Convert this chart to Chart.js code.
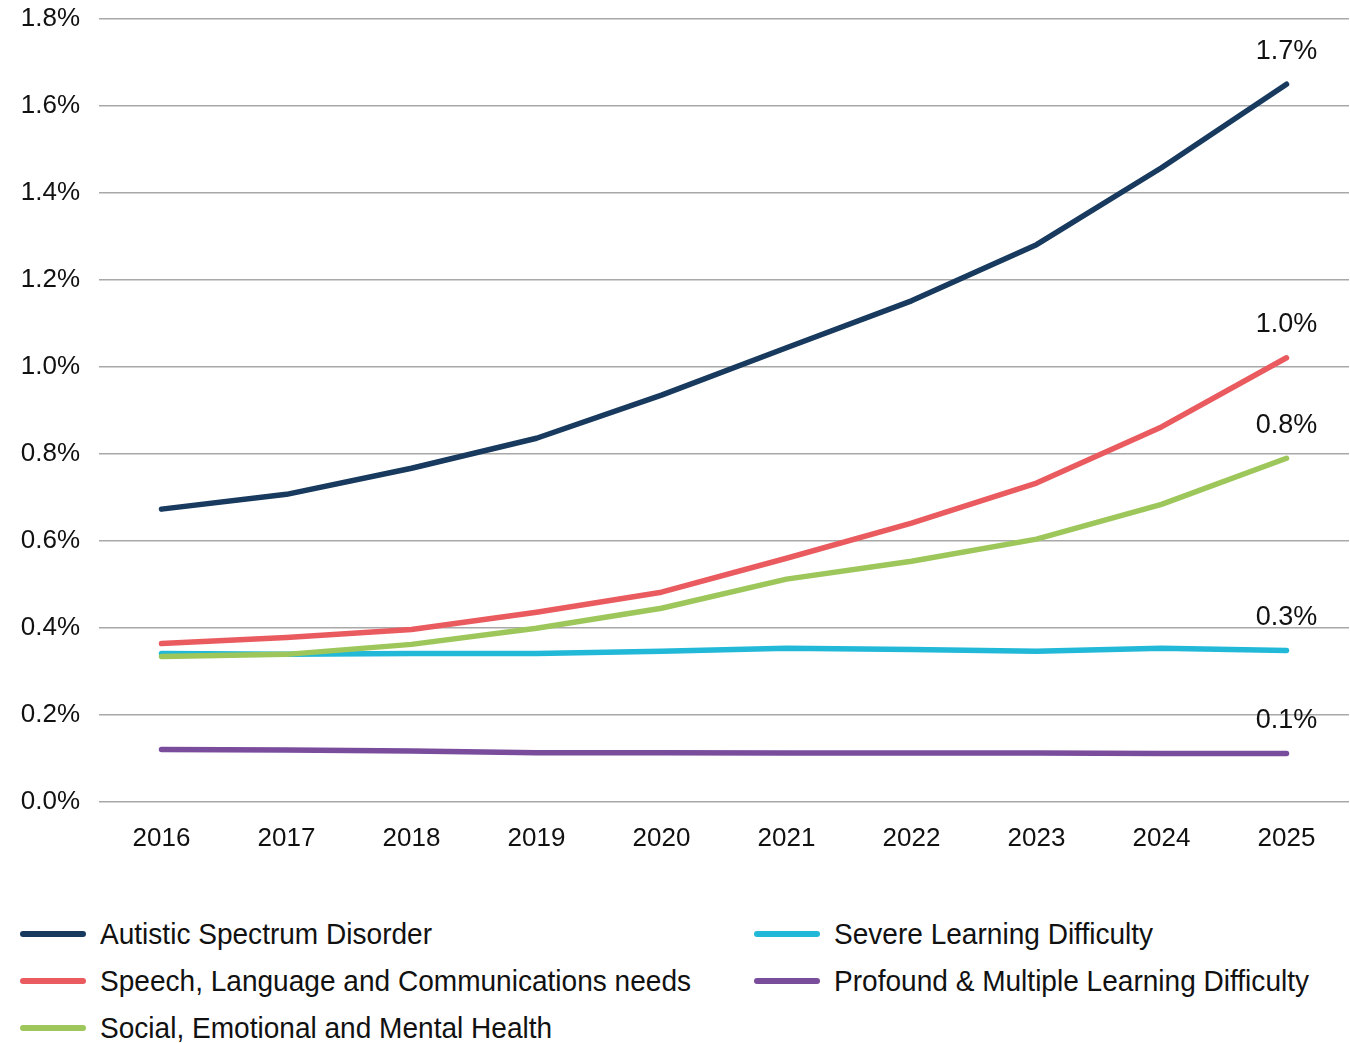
<!DOCTYPE html>
<html>
<head>
<meta charset="utf-8">
<script src="https://cdn.jsdelivr.net/npm/chart.js@4.4.1/dist/chart.umd.min.js"></script>
<style>
  body { margin: 0; background: #fff; }
  #wrap { position: relative; width: 1350px; height: 1043px; overflow: hidden; }
  #chartBox { position: absolute; left: 0; top: 0; width: 1350px; height: 883px; }
  #legend {
    position: absolute; left: 20px; top: 910px;
    display: grid; grid-template-columns: 734px 600px;
    grid-auto-flow: column; grid-template-rows: 47px 47px 47px;
    font-family: "Liberation Sans", Arial, sans-serif;
    font-size: 30px; color: #111;
  }
  .item { display: flex; align-items: center; white-space: nowrap; }
  .swatch { flex: none; width: 66px; height: 6px; border-radius: 3px; margin-right: 14px; }
  .txt { display: inline-block; transform: scaleX(0.935); transform-origin: left center; }
</style>
</head>
<body>
<div id="wrap">
  <div id="chartBox"><canvas id="chart"></canvas></div>
  <div id="legend"></div>
</div>
<script>
const years = ["2016", "2017", "2018", "2019", "2020", "2021", "2022", "2023", "2024", "2025"];

// share of pupils, in %
const asd = [0.673, 0.707, 0.767, 0.836, 0.935, 1.044, 1.152, 1.281, 1.458, 1.65];
const slcn = [0.364, 0.378, 0.396, 0.436, 0.482, 0.56, 0.641, 0.733, 0.862, 1.021];
const semh = [0.334, 0.339, 0.362, 0.399, 0.445, 0.512, 0.553, 0.604, 0.684, 0.79];
const sld = [0.341, 0.339, 0.341, 0.341, 0.346, 0.353, 0.35, 0.346, 0.353, 0.348];
const pmld = [0.12, 0.119, 0.117, 0.113, 0.113, 0.112, 0.112, 0.112, 0.111, 0.111];

const yTicks = [0, 0.2, 0.4, 0.6, 0.8, 1.0, 1.2, 1.4, 1.6, 1.8];

const fontFamily = '"Liberation Sans", Arial, sans-serif';

function line(label, data, color) {
  return {
    label: label,
    data: data,
    borderColor: color,
    backgroundColor: color,
    borderWidth: 5.5,
    borderCapStyle: "round",
    borderJoinStyle: "round",
    pointRadius: 0,
    tension: 0,
    fill: false,
  };
}

// value label above the last point of each line
const endLabels = {
  id: "endLabels",
  afterDatasetsDraw(chart) {
    const ctx = chart.ctx;
    ctx.save();
    ctx.font = "27px " + fontFamily;
    ctx.fillStyle = "#111";
    ctx.textAlign = "center";
    ctx.textBaseline = "middle";
    chart.data.datasets.forEach((ds, i) => {
      const meta = chart.getDatasetMeta(i);
      const last = meta.data[meta.data.length - 1];
      const v = ds.data[ds.data.length - 1];
      const txt = (Math.round(v * 10) / 10).toFixed(1) + "%";
      ctx.fillText(txt, last.x, last.y - 33);
    });
    ctx.restore();
  },
};

const ctx = document.getElementById("chart").getContext("2d");
const chart = new Chart(ctx, {
  type: "line",
  data: {
    labels: years,
    datasets: [
      line("Autistic Spectrum Disorder", asd, "#173a5e"),
      line("Speech, Language and Communications needs", slcn, "#ea5b60"),
      line("Social, Emotional and Mental Health", semh, "#9dc75b"),
      line("Severe Learning Difficulty", sld, "#22b8d8"),
      line("Profound & Multiple Learning Difficulty", pmld, "#7a4c9c"),
    ],
  },
  options: {
    responsive: true,
    maintainAspectRatio: false,
    animation: false,
    layout: { padding: { top: 19, right: 1, bottom: 8, left: 0 } },
    plugins: {
      legend: { display: false },
      tooltip: { enabled: false },
    },
    scales: {
      x: {
        offset: true,
        grid: { display: false, drawTicks: false },
        border: { display: false },
        ticks: {
          padding: 21,
          color: "#111",
          font: { family: fontFamily, size: 26 },
          maxRotation: 0,
        },
      },
      y: {
        min: 0,
        max: 1.8,
        afterFit(scale) {
          scale.width = 99;
          scale.paddingTop = 0;
        },
        afterBuildTicks(scale) {
          scale.ticks = yTicks.map((v) => ({ value: v }));
        },
        grid: { color: "#a8a8a8", lineWidth: 1.5, drawTicks: false },
        border: { display: false },
        ticks: {
          padding: 19,
          color: "#111",
          font: { family: fontFamily, size: 26 },
          callback: (v) => v.toFixed(1) + "%",
        },
      },
    },
  },
  plugins: [endLabels],
});

// legend, filled column by column like the original
const legendEl = document.getElementById("legend");
chart.data.datasets.forEach((ds) => {
  const item = document.createElement("div");
  item.className = "item";
  const sw = document.createElement("span");
  sw.className = "swatch";
  sw.style.background = ds.borderColor;
  const txt = document.createElement("span");
  txt.className = "txt";
  txt.textContent = ds.label;
  item.appendChild(sw);
  item.appendChild(txt);
  legendEl.appendChild(item);
});
</script>
</body>
</html>
